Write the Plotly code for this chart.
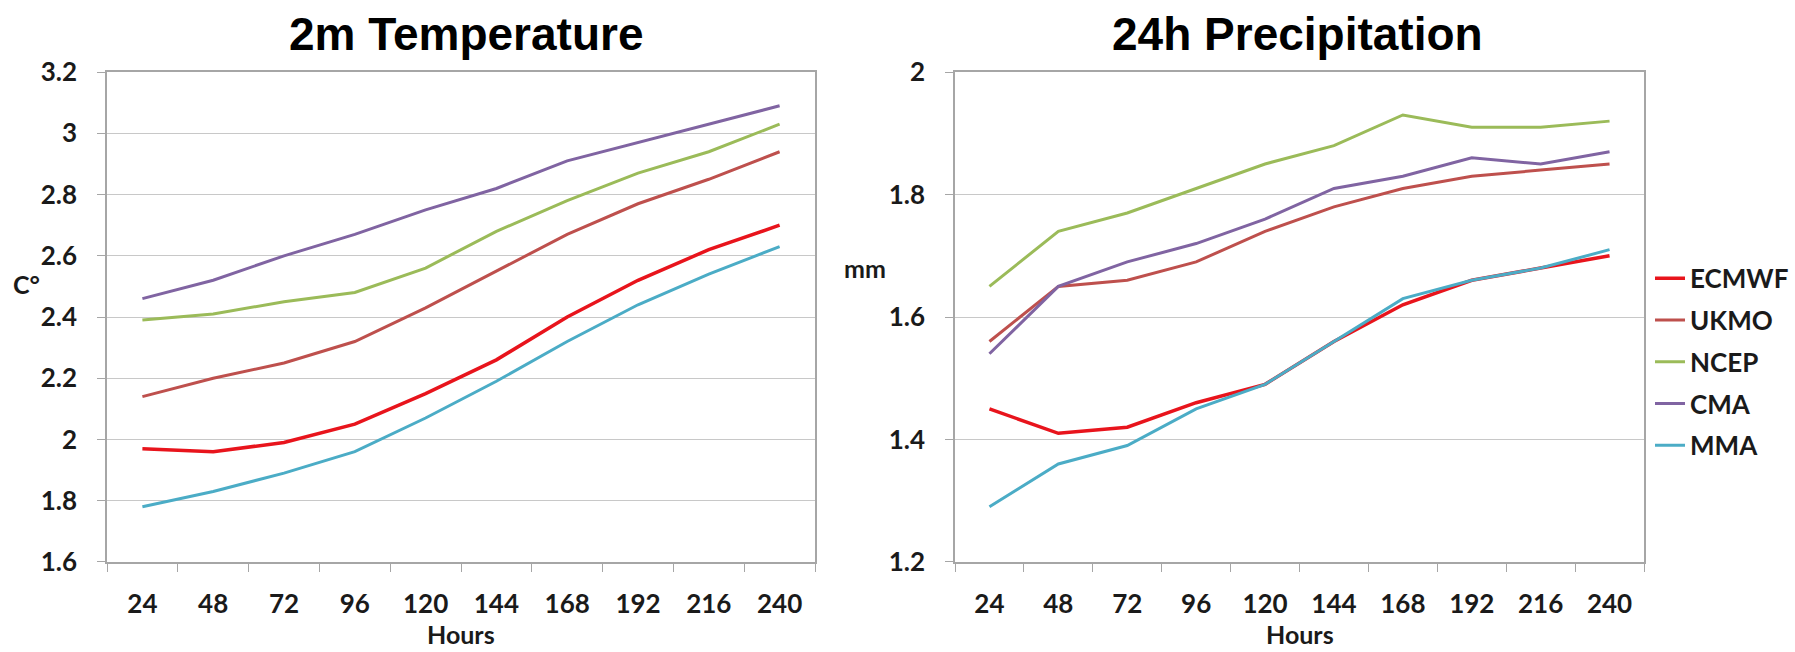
import plotly.graph_objects as go

# ---------------- data ----------------
hours = [24, 48, 72, 96, 120, 144, 168, 192, 216, 240]
models = ["ECMWF", "UKMO", "NCEP", "CMA", "MMA"]

temp_ecmwf = [1.97, 1.96, 1.99, 2.05, 2.15, 2.26, 2.40, 2.52, 2.62, 2.70]
temp_ukmo = [2.14, 2.20, 2.25, 2.32, 2.43, 2.55, 2.67, 2.77, 2.85, 2.94]
temp_ncep = [2.39, 2.41, 2.45, 2.48, 2.56, 2.68, 2.78, 2.87, 2.94, 3.03]
temp_cma = [2.46, 2.52, 2.60, 2.67, 2.75, 2.82, 2.91, 2.97, 3.03, 3.09]
temp_mma = [1.78, 1.83, 1.89, 1.96, 2.07, 2.19, 2.32, 2.44, 2.54, 2.63]

prec_ecmwf = [1.45, 1.41, 1.42, 1.46, 1.49, 1.56, 1.62, 1.66, 1.68, 1.70]
prec_ukmo = [1.56, 1.65, 1.66, 1.69, 1.74, 1.78, 1.81, 1.83, 1.84, 1.85]
prec_ncep = [1.65, 1.74, 1.77, 1.81, 1.85, 1.88, 1.93, 1.91, 1.91, 1.92]
prec_cma = [1.54, 1.65, 1.69, 1.72, 1.76, 1.81, 1.83, 1.86, 1.85, 1.87]
prec_mma = [1.29, 1.36, 1.39, 1.45, 1.49, 1.56, 1.63, 1.66, 1.68, 1.71]

temp_ticks = [1.6, 1.8, 2.0, 2.2, 2.4, 2.6, 2.8, 3.0, 3.2]
temp_tick_text = ["1.6", "1.8", "2", "2.2", "2.4", "2.6", "2.8", "3", "3.2"]
prec_ticks = [1.2, 1.4, 1.6, 1.8, 2.0]
prec_tick_text = ["1.2", "1.4", "1.6", "1.8", "2"]

titles = ["2m Temperature", "24h Precipitation"]
y_titles = ["C\u00b0", "mm"]
x_title = "Hours"

# ---------------- style ----------------
colors = ["#E8141C", "#BE504D", "#9BBB59", "#8064A2", "#4BACC6"]
widths = [3.5, 3, 3, 3, 3]

W, H = 1795, 652
def px_x(p):
    return p / W
def px_y(p):
    return 1 - p / H

x_cats = [str(h) for h in hours]
temp_series = [temp_ecmwf, temp_ukmo, temp_ncep, temp_cma, temp_mma]
prec_series = [prec_ecmwf, prec_ukmo, prec_ncep, prec_cma, prec_mma]

fig = go.Figure()
for i, name in enumerate(models):
    fig.add_trace(go.Scatter(
        x=x_cats, y=temp_series[i], mode="lines", name=name,
        line=dict(color=colors[i], width=widths[i]),
        xaxis="x", yaxis="y", showlegend=False, legendgroup=name))
for i, name in enumerate(models):
    fig.add_trace(go.Scatter(
        x=x_cats, y=prec_series[i], mode="lines", name=name,
        line=dict(color=colors[i], width=widths[i]),
        xaxis="x2", yaxis="y2", showlegend=True, legendgroup=name))

tick_font = dict(family="Lato", size=26, color="#1a1a1a", weight="bold")
axis_line = "#A6A6A6"
grid_col = "#C8C8C8"

common_x = dict(type="category", showgrid=False, showline=True, linecolor=axis_line,
                linewidth=1.5, mirror=True, ticks="outside", tickson="boundaries",
                ticklen=8, tickcolor=axis_line, tickfont=tick_font,
                ticklabelstandoff=18, range=[-0.5, 9.5], fixedrange=True)
common_y = dict(showgrid=True, gridcolor=grid_col, gridwidth=1.2, showline=True,
                linecolor=axis_line, linewidth=1.5, mirror=True, ticks="outside",
                ticklen=8, tickcolor=axis_line, tickfont=tick_font,
                ticklabelstandoff=15, zeroline=False)

y_dom = [px_y(573), px_y(58)]
fig.update_layout(
    width=W, height=H,
    margin=dict(l=0, r=0, t=0, b=0),
    paper_bgcolor="white", plot_bgcolor="white",
    xaxis=dict(domain=[px_x(107), px_x(815)], anchor="y", **common_x),
    yaxis=dict(domain=y_dom, anchor="x", range=[1.6, 3.2],
               tickvals=temp_ticks, ticktext=temp_tick_text, **common_y),
    xaxis2=dict(domain=[px_x(955), px_x(1644)], anchor="y2", **common_x),
    yaxis2=dict(domain=y_dom, anchor="x2", range=[1.2, 2.0],
                tickvals=prec_ticks, ticktext=prec_tick_text, **common_y),
    legend=dict(x=px_x(1650), y=px_y(250), xanchor="left", yanchor="top",
                font=dict(family="Lato", size=26, color="#1a1a1a", weight="bold"),
                tracegroupgap=5, itemwidth=30, bgcolor="rgba(0,0,0,0)"),
    showlegend=True,
)

ann_font = dict(family="Lato", size=25, color="#1a1a1a", weight="bold")
title_font = dict(family="Liberation Sans", size=46, color="black", weight="bold")
annotations = [
    dict(text=titles[0], x=px_x(466), y=px_y(18), xref="paper", yref="paper",
         xanchor="center", yanchor="middle", showarrow=False, font=title_font),
    dict(text=titles[1], x=px_x(1297), y=px_y(18), xref="paper", yref="paper",
         xanchor="center", yanchor="middle", showarrow=False, font=title_font),
    dict(text=y_titles[0], x=px_x(26), y=px_y(281), xref="paper", yref="paper",
         xanchor="center", yanchor="middle", showarrow=False, font=ann_font),
    dict(text=y_titles[1], x=px_x(865), y=px_y(264), xref="paper", yref="paper",
         xanchor="center", yanchor="middle", showarrow=False, font=ann_font),
    dict(text=x_title, x=px_x(461), y=px_y(667), xref="paper", yref="paper",
         xanchor="center", yanchor="bottom", showarrow=False, font=ann_font),
    dict(text=x_title, x=px_x(1300), y=px_y(667), xref="paper", yref="paper",
         xanchor="center", yanchor="bottom", showarrow=False, font=ann_font),
]
fig.update_layout(annotations=annotations)

fig.write_html("out.html")
